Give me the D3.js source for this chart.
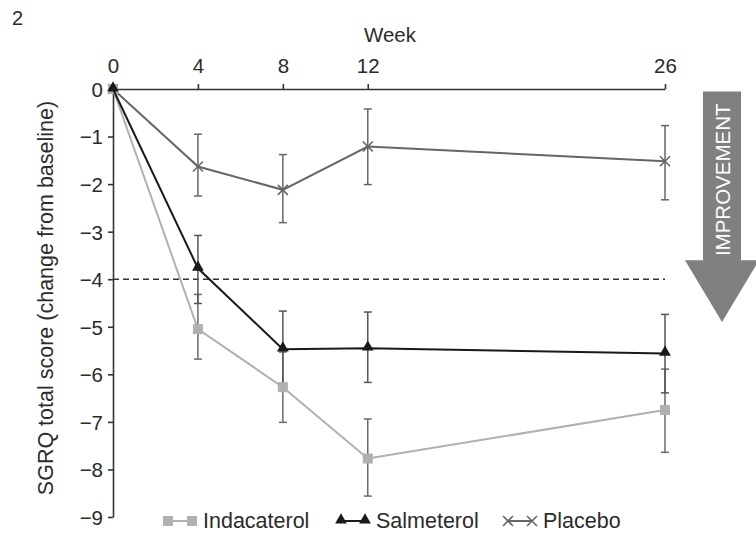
<!DOCTYPE html>
<html>
<head>
<meta charset="utf-8">
<script src="https://cdn.jsdelivr.net/npm/d3@7"></script>
<style>
  body { margin: 0; background: #fff; }
  svg text { font-family: "Liberation Sans", Arial, Helvetica, sans-serif; fill: #2b2b2b; }
</style>
</head>
<body>
<svg class="chart" width="756" height="539"></svg>
<script>
const weeks = [0, 4, 8, 12, 26]
const yTicks = [0, -1, -2, -3, -4, -5, -6, -7, -8, -9]

const indacaterol = [0, -5.05, -6.27, -7.77, -6.75]
const indacaterolHi = [0, -4.32, -5.53, -6.94, -5.89]
const indacaterolLo = [0, -5.68, -7.01, -8.56, -7.64]

const salmeterol = [0, -3.77, -5.47, -5.45, -5.56]
const salmeterolHi = [0, -3.08, -4.67, -4.69, -4.74]
const salmeterolLo = [0, -4.51, -6.27, -6.17, -6.39]

const placebo = [0, -1.63, -2.12, -1.21, -1.52]
const placeboHi = [0, -0.95, -1.38, -0.42, -0.77]
const placeboLo = [0, -2.25, -2.81, -2.01, -2.33]

const mcid = -4

const svg = d3.select("svg.chart")

const x = d3.scaleLinear().domain([0, 26]).range([113, 665])
const y = d3.scaleLinear().domain([-9, 0]).range([517, 89])

const minus = d => d === 0 ? "0" : "\u2212" + Math.abs(d)

// panel number
svg.append("text").attr("x", 12).attr("y", 25).attr("font-size", 20).text("2")

// axes
const topAxis = svg.append("g")
    .attr("transform", "translate(0," + y(0) + ")")
    .call(d3.axisTop(x).tickValues(weeks).tickSize(5).tickSizeOuter(0).tickPadding(11))
const leftAxis = svg.append("g")
    .attr("transform", "translate(" + x(0) + ",0)")
    .call(d3.axisLeft(y).tickValues(yTicks).tickFormat(minus).tickSize(5).tickSizeOuter(0).tickPadding(5))

;[topAxis, leftAxis].forEach(g => {
  g.select(".domain").attr("stroke", "#333").attr("stroke-width", 1.6)
  g.selectAll(".tick line").attr("stroke", "#333").attr("stroke-width", 1.6)
  g.selectAll(".tick text").attr("font-size", 20.5).attr("fill", "#2b2b2b")
})
leftAxis.selectAll(".tick text").attr("dy", "0.36em")

svg.append("text")
    .attr("x", 390).attr("y", 42)
    .attr("text-anchor", "middle")
    .attr("font-size", 20.5)
    .text("Week")

svg.append("text")
    .attr("transform", "translate(53,298) rotate(-90)")
    .attr("text-anchor", "middle")
    .attr("font-size", 21.5)
    .text("SGRQ total score (change from baseline)")

// reference line at -4
svg.append("line")
    .attr("x1", x(0)).attr("x2", x(26))
    .attr("y1", y(mcid)).attr("y2", y(mcid))
    .attr("stroke", "#333").attr("stroke-width", 1.5)
    .attr("stroke-dasharray", "6,4")

// improvement arrow
const aTop = y(-0.05), aNeck = y(-3.6), aTip = y(-4.9)
const aCx = 722, shaftHalf = 19, headHalf = 37
svg.append("path")
    .attr("d", "M" + (aCx - shaftHalf) + "," + aTop +
      "L" + (aCx + shaftHalf) + "," + aTop +
      "L" + (aCx + shaftHalf) + "," + aNeck +
      "L" + (aCx + headHalf) + "," + aNeck +
      "L" + aCx + "," + aTip +
      "L" + (aCx - headHalf) + "," + aNeck +
      "L" + (aCx - shaftHalf) + "," + aNeck + "Z")
    .attr("fill", "#808080")
svg.append("text")
    .attr("transform", "translate(" + (aCx + 7.5) + "," + ((aTop + aNeck) / 2 + 4) + ") rotate(-90)")
    .attr("text-anchor", "middle")
    .attr("font-size", 20.5)
    .style("fill", "#fff")
    .text("IMPROVEMENT")

const series = [
  {name: "Indacaterol", vals: indacaterol, hi: indacaterolHi, lo: indacaterolLo, color: "#b0b0b0", bar: "#6a6a6a", sym: "square"},
  {name: "Salmeterol", vals: salmeterol, hi: salmeterolHi, lo: salmeterolLo, color: "#1a1a1a", bar: "#555", sym: "triangle"},
  {name: "Placebo", vals: placebo, hi: placeboHi, lo: placeboLo, color: "#666", bar: "#666", sym: "cross"}
]

function drawSymbol(g, s, cx, cy) {
  if (s.sym === "square") {
    g.append("rect").attr("x", cx - 5).attr("y", cy - 5).attr("width", 10).attr("height", 10).attr("fill", s.color)
  } else if (s.sym === "triangle") {
    g.append("path").attr("d", d3.symbol(d3.symbolTriangle, 60)()).attr("transform", "translate(" + cx + "," + (cy - 1) + ")").attr("fill", s.color)
  } else {
    g.append("path").attr("d", "M-5,-5L5,5M-5,5L5,-5").attr("transform", "translate(" + cx + "," + cy + ")")
      .attr("stroke", s.color).attr("stroke-width", 1.6).attr("fill", "none")
  }
}

const line = d3.line().x((d, i) => x(weeks[i])).y(d => y(d))

// error bars
series.forEach(s => {
  const g = svg.append("g")
  weeks.forEach((w, i) => {
    if (w === 0) return
    g.append("line").attr("x1", x(w)).attr("x2", x(w)).attr("y1", y(s.hi[i])).attr("y2", y(s.lo[i]))
      .attr("stroke", s.bar).attr("stroke-width", 1.5)
    ;[s.hi[i], s.lo[i]].forEach(v => {
      g.append("line").attr("x1", x(w) - 4).attr("x2", x(w) + 4).attr("y1", y(v)).attr("y2", y(v))
        .attr("stroke", s.bar).attr("stroke-width", 1.5)
    })
  })
})

// lines and markers
;[series[2], series[0], series[1]].forEach(s => {
  svg.append("path").datum(s.vals).attr("d", line)
    .attr("fill", "none").attr("stroke", s.color).attr("stroke-width", 2)
  const g = svg.append("g")
  s.vals.forEach((v, i) => drawSymbol(g, s, x(weeks[i]), y(v)))
})

// legend
const legendX = [168, 341, 508]
series.forEach((s, i) => {
  const g = svg.append("g")
  const lx = legendX[i], ly = 521
  g.append("line").attr("x1", lx).attr("x2", lx + 24).attr("y1", ly).attr("y2", ly)
    .attr("stroke", s.color).attr("stroke-width", 2)
  drawSymbol(g, s, lx, ly)
  drawSymbol(g, s, lx + 24, ly)
  g.append("text").attr("x", lx + 35).attr("y", 528).attr("font-size", 21.5).text(s.name)
})
</script>
</body>
</html>
